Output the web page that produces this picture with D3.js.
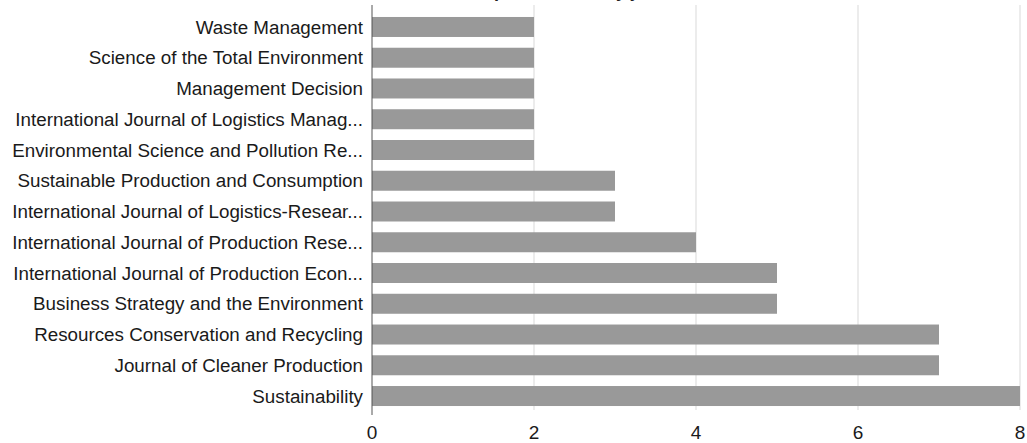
<!DOCTYPE html>
<html>
<head>
<meta charset="utf-8">
<script src="https://cdn.jsdelivr.net/npm/d3@7"></script>
<style>
  body { margin: 0; background: #fff; }
  text { font-family: "Liberation Sans", Arial, sans-serif; }
</style>
</head>
<body>
<div id="graph_container"></div>
<script>
var journals = [
  "Waste Management",
  "Science of the Total Environment",
  "Management Decision",
  "International Journal of Logistics Manag...",
  "Environmental Science and Pollution Re...",
  "Sustainable Production and Consumption",
  "International Journal of Logistics-Resear...",
  "International Journal of Production Rese...",
  "International Journal of Production Econ...",
  "Business Strategy and the Environment",
  "Resources Conservation and Recycling",
  "Journal of Cleaner Production",
  "Sustainability"
];
var counts = [2, 2, 2, 2, 2, 3, 3, 4, 5, 5, 7, 7, 8];
var xTicks = [0, 2, 4, 6, 8];

var W = 1027, H = 443;

var xScale = d3.scaleLinear()
    .domain([0, 8])
    .range([372, 1020]);

var yScale = d3.scaleBand()
    .domain(journals)
    .range([11.6, 411.4])
    .paddingInner(0.35)
    .paddingOuter(0.175);

var svg = d3.select('#graph_container').append('svg')
    .attr("width", W)
    .attr("height", H);

// title, mostly cut off at the top of the picture
svg.append("text")
    .attr("x", 545)
    .attr("y", -3)
    .attr("text-anchor", "middle")
    .style("font-size", "18px")
    .style("font-weight", "bold")
    .attr("fill", "#222")
    .text("Number of publications by journal");

// vertical gridlines
svg.selectAll("line.grid")
    .data(xTicks.slice(1))
    .enter()
    .append("line")
        .attr("class", "grid")
        .attr("x1", function(d) { return xScale(d); })
        .attr("x2", function(d) { return xScale(d); })
        .attr("y1", 5)
        .attr("y2", 410)
        .attr("stroke", "#d9d9d9")
        .attr("stroke-width", 1);

// bars
svg.selectAll("rect")
    .data(counts)
    .enter()
    .append("rect")
        .attr("x", xScale(0))
        .attr("y", function(d, i) { return yScale(journals[i]); })
        .attr("width", function(d) { return xScale(d) - xScale(0); })
        .attr("height", yScale.bandwidth())
        .attr("fill", "#999999");

// y axis line
svg.append("line")
    .attr("x1", xScale(0))
    .attr("x2", xScale(0))
    .attr("y1", 5)
    .attr("y2", 415)
    .attr("stroke", "#555")
    .attr("stroke-width", 1);

// category labels
svg.selectAll("text.cat")
    .data(journals)
    .enter()
    .append("text")
        .attr("class", "cat")
        .attr("x", xScale(0) - 9)
        .attr("y", function(d) { return yScale(d) + yScale.bandwidth() / 2; })
        .attr("dy", "0.35em")
        .attr("text-anchor", "end")
        .style("font-size", "18.8px")
        .attr("fill", "#1a1a1a")
        .text(function(d) { return d; });

// x tick labels
svg.selectAll("text.tick")
    .data(xTicks)
    .enter()
    .append("text")
        .attr("class", "tick")
        .attr("x", function(d) { return xScale(d); })
        .attr("y", 439)
        .attr("text-anchor", "middle")
        .style("font-size", "19px")
        .attr("fill", "#1a1a1a")
        .text(function(d) { return d; });
</script>
</body>
</html>
